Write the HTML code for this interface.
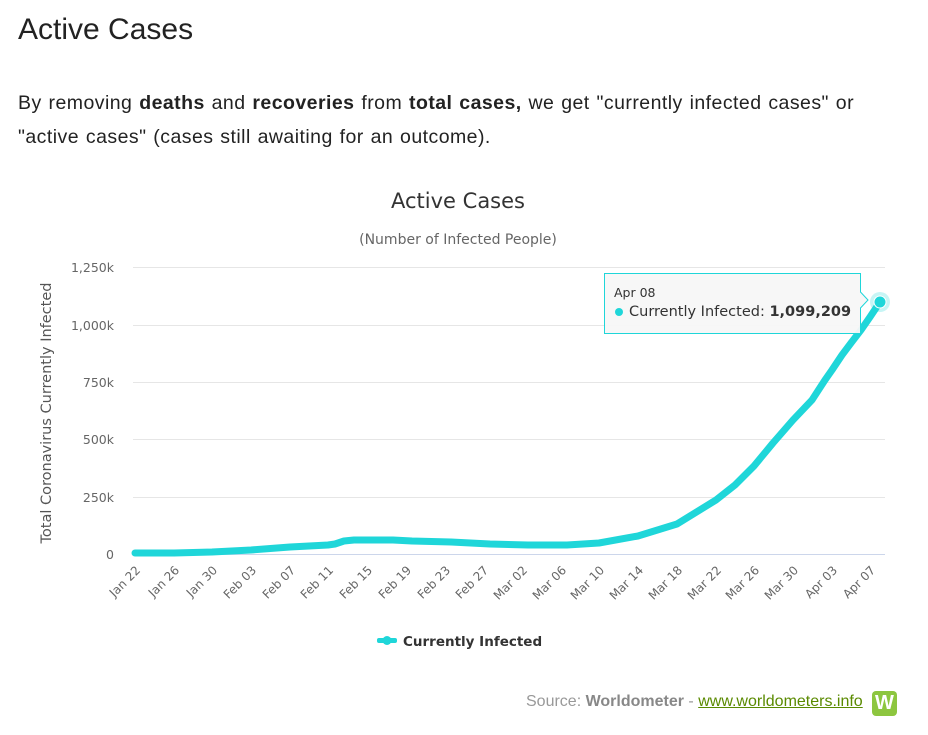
<!DOCTYPE html>
<html><head><meta charset="utf-8"><style>
body{margin:0;background:#fff;width:928px;height:735px;overflow:hidden;font-family:"Liberation Sans",Arial,sans-serif;}
h1{position:absolute;left:18px;top:13px;margin:0;font-weight:normal;font-size:30px;color:#222;}
p{position:absolute;left:18px;top:86px;margin:0;font-size:19.5px;letter-spacing:0.45px;word-spacing:1px;line-height:34px;color:#222;width:880px;}
.src{position:absolute;left:526px;top:693px;font-size:16px;color:#999;}
.src b{color:#888}.src a{color:#5a8a00;text-decoration:underline}
.w{position:absolute;left:872px;top:691px;width:25px;height:25px;background:#8dc63f;border-radius:4px;color:#fff;font-weight:bold;font-size:20px;text-align:center;line-height:25px}
</style></head><body>
<h1>Active Cases</h1>
<p>By removing <b>deaths</b> and <b>recoveries</b> from <b>total cases,</b> we get "currently infected cases" or<br>"active cases" (cases still awaiting for an outcome).</p>
<svg width="928" height="735" style="position:absolute;left:0;top:0" font-family="DejaVu Sans,sans-serif">
<text x="458" y="208" text-anchor="middle" font-size="21" fill="#333">Active Cases</text>
<text x="458" y="244" text-anchor="middle" font-size="14" fill="#666">(Number of Infected People)</text>
<g stroke="#e6e6e6" stroke-width="1">
<line x1="133" x2="885" y1="267.5" y2="267.5"/><line x1="133" x2="885" y1="325.5" y2="325.5"/>
<line x1="133" x2="885" y1="382.5" y2="382.5"/><line x1="133" x2="885" y1="439.5" y2="439.5"/>
<line x1="133" x2="885" y1="497.5" y2="497.5"/></g>
<line x1="133" x2="885" y1="554.5" y2="554.5" stroke="#ccd6eb"/>
<g font-size="12.5" fill="#666" text-anchor="end">
<text x="114" y="272">1,250k</text><text x="114" y="330">1,000k</text><text x="114" y="387">750k</text>
<text x="114" y="444">500k</text><text x="114" y="502">250k</text><text x="114" y="559">0</text></g>
<text transform="translate(51,413) rotate(-90)" text-anchor="middle" font-size="14.5" fill="#555">Total Coronavirus Currently Infected</text>
<g font-size="12" fill="#666" text-anchor="end">
<text transform="translate(141,571) rotate(-45)">Jan 22</text>
<text transform="translate(180,571) rotate(-45)">Jan 26</text>
<text transform="translate(218,571) rotate(-45)">Jan 30</text>
<text transform="translate(257,571) rotate(-45)">Feb 03</text>
<text transform="translate(296,571) rotate(-45)">Feb 07</text>
<text transform="translate(334,571) rotate(-45)">Feb 11</text>
<text transform="translate(373,571) rotate(-45)">Feb 15</text>
<text transform="translate(412,571) rotate(-45)">Feb 19</text>
<text transform="translate(451,571) rotate(-45)">Feb 23</text>
<text transform="translate(489,571) rotate(-45)">Feb 27</text>
<text transform="translate(528,571) rotate(-45)">Mar 02</text>
<text transform="translate(567,571) rotate(-45)">Mar 06</text>
<text transform="translate(605,571) rotate(-45)">Mar 10</text>
<text transform="translate(644,571) rotate(-45)">Mar 14</text>
<text transform="translate(683,571) rotate(-45)">Mar 18</text>
<text transform="translate(722,571) rotate(-45)">Mar 22</text>
<text transform="translate(760,571) rotate(-45)">Mar 26</text>
<text transform="translate(799,571) rotate(-45)">Mar 30</text>
<text transform="translate(838,571) rotate(-45)">Apr 03</text>
<text transform="translate(876,571) rotate(-45)">Apr 07</text></g>
<polyline fill="none" stroke="#1fd6d9" stroke-width="7" stroke-linejoin="round" stroke-linecap="round"
points="135,553 174,553 212,552 251,550 290,547 328,545 335,544 344,541 354,540 374,540 393,540 412,541 451,542 490,544 528,545 567,545 599,543 638,536 677,524 716,500 735,485 754,466 773,443 793,420 812,400 825,380 832,370 842,355 851,343 861,330 870,317 880,302"/>
<circle cx="880" cy="302" r="10" fill="#1fd6d9" opacity="0.25"/>
<circle cx="880" cy="302" r="6" fill="#1fd6d9" stroke="#fff" stroke-width="1"/>
<path d="M604.5,273.5 H860.5 V292 L868,300 L860.5,308 V333.5 H604.5 Z" fill="#f7f7f7" fill-opacity="0.95" stroke="#1fd6d9"/>
<text x="614" y="297" font-size="12.5" fill="#333">Apr 08</text>
<circle cx="619" cy="312" r="4" fill="#1fd6d9"/>
<text x="629" y="316" font-size="14.5" fill="#333">Currently Infected: <tspan font-weight="bold">1,099,209</tspan></text>
<rect x="377" y="638" width="20" height="5" rx="2" fill="#1fd6d9"/><circle cx="387" cy="640.5" r="4.5" fill="#1fd6d9"/>
<text x="403" y="646" font-size="13.5" font-weight="bold" fill="#333">Currently Infected</text>
</svg>
<div class="src">Source: <b>Worldometer</b> - <a>www.worldometers.info</a></div>
<div class="w">W</div>
</body></html>
